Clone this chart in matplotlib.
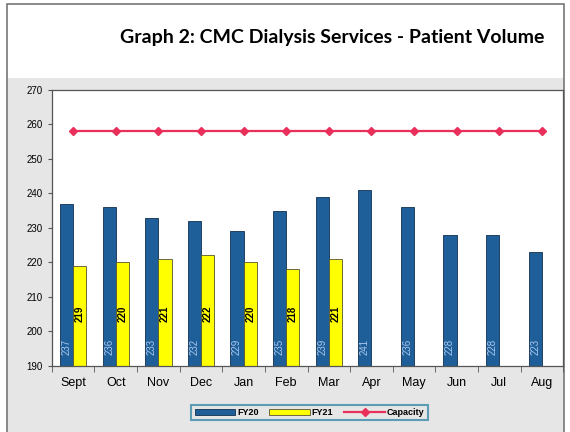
import numpy as np
import matplotlib.pyplot as plt
from matplotlib.patches import Rectangle

# Data
months = ['Sept', 'Oct', 'Nov', 'Dec', 'Jan', 'Feb', 'Mar', 'Apr', 'May', 'Jun', 'Jul', 'Aug']
fy20 = [237, 236, 233, 232, 229, 235, 239, 241, 236, 228, 228, 223]
fy21 = [219, 220, 221, 222, 220, 218, 221]
capacity = [258] * 12

# Colors
COLOR_FY20 = '#1f5f99'
COLOR_FY21 = '#ffff00'
COLOR_CAP = '#e8305a'

fig = plt.figure(figsize=(5.7, 4.32), dpi=100)
fig.patch.set_facecolor('white')

# gray chart area behind the plot, with frame
fig.patches.append(Rectangle((0.012, 0.0), 0.978, 0.82, transform=fig.transFigure,
                             facecolor='#e6e6e6', edgecolor='none', zorder=-10))
fig.patches.append(Rectangle((0.012, -0.01), 0.978, 1.0, transform=fig.transFigure,
                             facecolor='none', edgecolor='#777777', lw=1.2, zorder=-9))

ax = fig.add_axes([0.091, 0.153, 0.897, 0.639])
ax.set_facecolor('white')

x = np.arange(len(months))
w = 0.31
b1 = ax.bar(x[:len(fy20)] - w / 2, [v - 190 for v in fy20], w, bottom=190,
            color=COLOR_FY20, edgecolor='#10304f', lw=0.6, label='FY20', zorder=2)
b2 = ax.bar(x[:len(fy21)] + w / 2, [v - 190 for v in fy21], w, bottom=190,
            color=COLOR_FY21, edgecolor='#555533', lw=0.6, label='FY21', zorder=2)
l1, = ax.plot(x, capacity, color=COLOR_CAP, marker='D', markersize=4.5, lw=1.6,
              label='Capacity', zorder=3)

# labels inside bars
for i, v in enumerate(fy20):
    ax.text(x[i] - w / 2, 195.5, str(v), rotation=90, ha='center', va='center',
            color='#a9c8f0', fontsize=7, family='Liberation Sans', zorder=4)
for i, v in enumerate(fy21):
    ax.text(x[i] + w / 2, 205, str(v), rotation=90, ha='center', va='center',
            color='black', fontsize=7, fontweight='bold', family='Liberation Sans', zorder=4)

ax.set_ylim(190, 270)
ax.set_yticks(range(190, 271, 10))
ax.set_xlim(-0.5, len(months) - 0.5)
ax.set_xticks(x)
ax.set_xticklabels(months, fontsize=9, family='Liberation Sans')
ax.set_xticks(np.arange(-0.5, len(months)), minor=True)
ax.tick_params(axis='x', which='major', length=0, pad=8)
ax.tick_params(axis='x', which='minor', length=4, color='#555555')
ax.tick_params(axis='y', labelsize=7, length=3, color='#555555')
for lbl in ax.get_yticklabels():
    lbl.set_family('Liberation Sans')
for s in ax.spines.values():
    s.set_color('#555555')
    s.set_linewidth(0.9)

fig.text(0.583, 0.913, 'Graph 2: CMC Dialysis Services - Patient Volume',
         ha='center', va='center', fontsize=14, fontweight='bold', family='Lato')

leg = fig.legend([b1, b2, l1], ['FY20', 'FY21', 'Capacity'], loc='center',
                 bbox_to_anchor=(0.543, 0.045), ncol=3,
                 frameon=True, handlelength=4.5, handleheight=0.6, columnspacing=1.2,
                 borderpad=0.35, handletextpad=0.2,
                 prop={'family': 'Liberation Sans', 'weight': 'bold', 'size': 6.5})
leg.get_frame().set_edgecolor('#3a8aa8')
leg.get_frame().set_linewidth(1.5)
leg.get_frame().set_facecolor('#e6e6e6')
leg.get_frame().set_boxstyle('square', pad=0)

fig.savefig('out.png', dpi=100, facecolor=fig.get_facecolor())
